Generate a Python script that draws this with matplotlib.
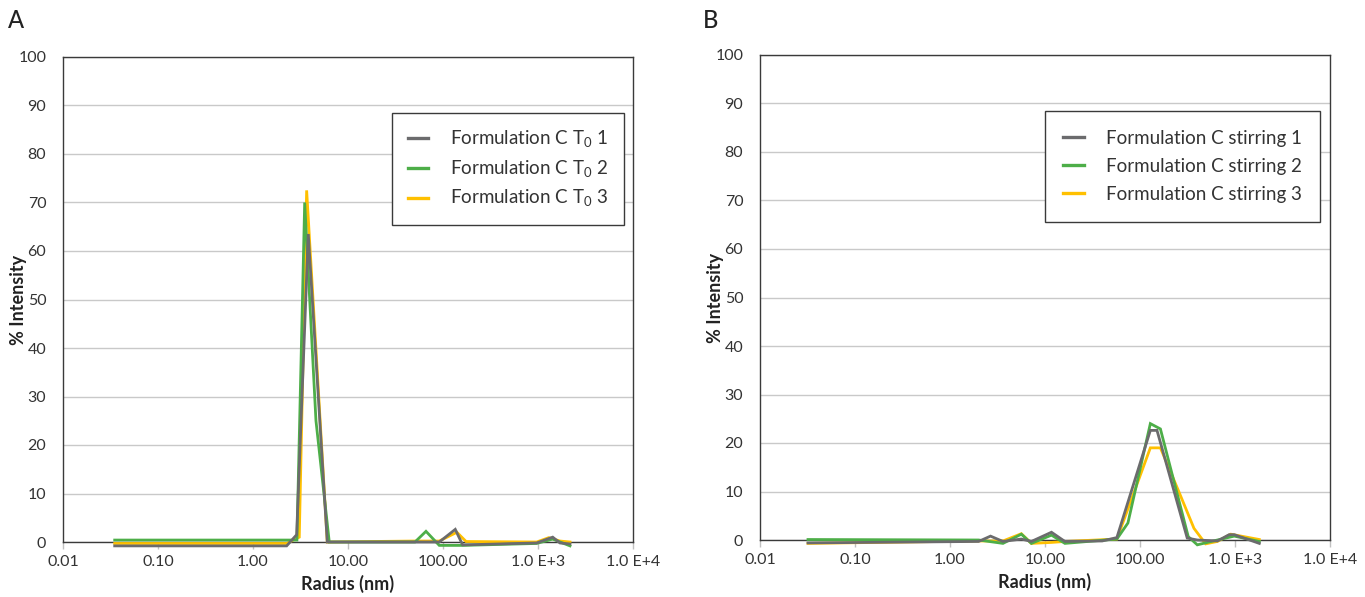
import matplotlib.pyplot as plt
from matplotlib.ticker import FixedLocator, NullLocator

plt.rcParams['font.family'] = ['Lato', 'DejaVu Sans']

# colours of the three replicates
GREY = '#6b6b6d'
GREEN = '#4dae48'
GOLD = '#ffc000'

# x tick positions and labels (log radius axis)
radius_ticks = [0.01, 0.1, 1, 10, 100, 1000, 10000]
radius_labels = ['0.01', '0.10', '1.00', '10.00', '100.00', '1.0 E+3', '1.0 E+4']

# Panel A - Formulation C at T0
t0_1_r = [0.035, 2.26, 2.88, 3.82, 6.05, 50, 91.4, 134.6, 161, 968, 1428, 1703, 2171]
t0_1_i = [-0.8, -0.8, 1.5, 63.5, 0, 0, 0, 2.6, -0.6, -0.2, 1.0, -0.2, -0.4]

t0_2_r = [0.035, 2.9, 3.50, 4.6, 6.35, 50.7, 66.2, 91.4, 161, 968, 1428, 2171]
t0_2_i = [0.4, 0.4, 70, 25, 0, 0, 2.2, -0.7, -0.7, -0.3, 0.6, -0.8]

t0_3_r = [0.035, 2.26, 3.07, 3.67, 6.05, 50, 91.4, 140, 175, 968, 1300, 1703, 2171]
t0_3_i = [-0.3, -0.3, 1.0, 72.5, 0, 0.2, 0.2, 2.0, 0.1, 0, 0.9, 0.2, 0]

# Panel B - Formulation C after stirring
st_1_r = [0.032, 2.0, 2.67, 3.61, 5.64, 7.19, 11.7, 16.2, 40, 57.1, 128.5, 151, 314, 400, 653, 868, 981, 1803]
st_1_i = [-0.6, -0.3, 0.8, -0.3, 0.2, -0.3, 1.6, -0.3, -0.2, 0.5, 22.6, 22.6, 0.4, 0, -0.2, 1.1, 1.1, -0.7]

st_2_r = [0.032, 2.0, 3.61, 5.64, 7.19, 11.7, 16.2, 57.1, 74.6, 128.5, 164, 322, 401, 653, 981, 1803]
st_2_i = [0.1, 0, -0.7, 1.2, -0.7, 1.0, -0.7, 0.2, 3.5, 24, 22.9, 0.7, -1.0, 0, 0.8, -0.3]

st_3_r = [0.032, 2.0, 3.61, 5.64, 7.19, 11.7, 16.2, 57.1, 128.5, 164, 256, 370, 491, 653, 903, 1803]
st_3_i = [-0.7, -0.2, -0.2, 1.3, -0.7, -0.5, -0.3, 0.2, 19, 19, 10, 2.4, -0.8, -0.3, 1.2, 0.1]


def draw_panel(ax, series, labels, legend_anchor, spacing, pad):
    colors = [GREY, GREEN, GOLD]
    handles = []
    # draw gold first and grey last so grey sits on top
    for i in [2, 1, 0]:
        r, v = series[i]
        h, = ax.plot(r, v, color=colors[i], lw=2.0, clip_on=False,
                     solid_joinstyle='miter', zorder=3 + (2 - i))
        handles.append((i, h))
    handles = [h for i, h in sorted(handles)]

    ax.set_xscale('log')
    ax.set_xlim(0.01, 10000)
    ax.set_ylim(0, 100)
    ax.xaxis.set_major_locator(FixedLocator(radius_ticks))
    ax.xaxis.set_minor_locator(NullLocator())
    ax.set_xticklabels(radius_labels)
    ax.set_yticks(range(0, 101, 10))

    ax.grid(axis='y', color='#c9c9c9', lw=1.0)
    ax.set_axisbelow(True)
    for s in ax.spines.values():
        s.set_color('#3a3a3a')
        s.set_linewidth(1.0)

    ax.tick_params(axis='y', length=0, pad=12, labelsize=11.5, labelcolor='#333333')
    ax.tick_params(axis='x', length=5, width=1, color='#c0c0c0', pad=4,
                   labelsize=11.5, labelcolor='#333333')

    ax.set_xlabel('Radius (nm)', fontsize=13, fontweight='bold', color='#222222')
    ax.xaxis.set_label_coords(0.5, -33 / 485)
    ax.set_ylabel('% Intensity', fontsize=13, fontweight='bold', color='#222222')
    ax.yaxis.set_label_coords(-36 / 570, 0.5)

    leg = ax.legend(handles, labels, loc='upper right', bbox_to_anchor=legend_anchor,
                    fontsize=13.5, frameon=True, fancybox=False, framealpha=1,
                    edgecolor='#3a3a3a', borderpad=pad, labelspacing=spacing,
                    handlelength=1.1, handletextpad=1.15, borderaxespad=0)
    leg.get_frame().set_linewidth(1.0)
    for t in leg.get_texts():
        t.set_color('#333333')
    for line in leg.get_lines():
        line.set_linewidth(2.4)


fig = plt.figure(figsize=(13.65, 5.97), dpi=100)

ax_a = fig.add_axes([63 / 1365, 1 - 542 / 597, 570 / 1365, 485 / 597])
ax_b = fig.add_axes([760 / 1365, 1 - 540 / 597, 570 / 1365, 485 / 597])

draw_panel(ax_a,
           [(t0_1_r, t0_1_i), (t0_2_r, t0_2_i), (t0_3_r, t0_3_i)],
           [r'Formulation C T$_\mathregular{0}$ 1',
            r'Formulation C T$_\mathregular{0}$ 2',
            r'Formulation C T$_\mathregular{0}$ 3'],
           (0.984, 0.885), 0.45, 0.85)
draw_panel(ax_b,
           [(st_1_r, st_1_i), (st_2_r, st_2_i), (st_3_r, st_3_i)],
           ['Formulation C stirring 1',
            'Formulation C stirring 2',
            'Formulation C stirring 3'],
           (0.983, 0.885), 0.6, 1.0)

fig.text(8 / 1365, 1 - 20 / 597, 'A', fontsize=17, fontweight=500, color='#222222',
         va='center', ha='left')
fig.text(703 / 1365, 1 - 20 / 597, 'B', fontsize=17, fontweight=500, color='#222222',
         va='center', ha='left')

fig.savefig('out.png', dpi=100)
